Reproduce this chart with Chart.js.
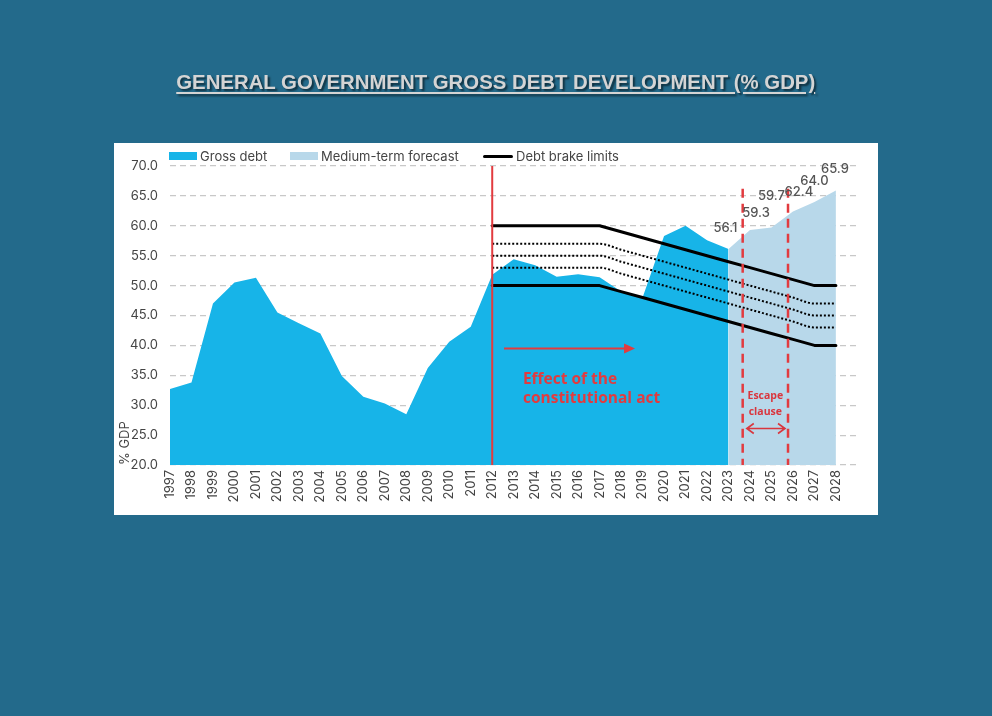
<!DOCTYPE html>
<html><head><meta charset="utf-8">
<script src="https://cdn.jsdelivr.net/npm/chart.js@4.4.1/dist/chart.umd.min.js"></script>
<style>
html,body{margin:0;padding:0;}
body{width:992px;height:716px;background:#236A8B;position:relative;overflow:hidden;font-family:Inter,"Liberation Sans",sans-serif;}
#title{position:absolute;left:0;top:70px;width:992px;text-align:center;}
#title span{display:inline-block;font-family:"Liberation Sans",Arial,sans-serif;font-weight:bold;font-size:20px;line-height:24px;color:#D4D4D4;text-decoration:underline;text-decoration-thickness:2px;text-underline-offset:3px;text-shadow:2px 2px 2px rgba(0,0,0,0.55);white-space:nowrap;transform-origin:center;}
#card{position:absolute;left:114px;top:143px;width:764px;height:372px;background:#fff;}
#card canvas{position:absolute;left:0;top:0;}
.lg{position:absolute;font-size:13px;color:#444;line-height:16px;white-space:nowrap;top:5px;}
.sw{position:absolute;}
</style></head><body>
<div id="title"><span id="ttl">GENERAL GOVERNMENT GROSS DEBT DEVELOPMENT (% GDP)</span></div>
<div id="card">
  <canvas id="c" width="764" height="372"></canvas>
  <div id="legend"></div>
</div>
<script>
// ---- data ----
const years = [1997,1998,1999,2000,2001,2002,2003,2004,2005,2006,2007,2008,2009,2010,2011,2012,2013,2014,2015,2016,2017,2018,2019,2020,2021,2022,2023,2024,2025,2026,2027,2028];
const grossDebt = [32.7,33.8,47.0,50.5,51.3,45.5,43.7,42.0,34.9,31.4,30.3,28.5,36.2,40.6,43.1,51.8,54.4,53.4,51.5,51.9,51.4,49.0,48.0,58.3,60.0,57.6,56.1]; // 1997-2023
const forecastStart = 2023;
const forecast = [56.1,59.3,59.7,62.4,64.0,65.9]; // 2023-2028
const brakeStart = 2012;
const brakeUpper = [60,60,60,60,60,60,59,58,57,56,55,54,53,52,51,50,50]; // 2012-2028
const brakeLower = [50,50,50,50,50,50,49,48,47,46,45,44,43,42,41,40,40];
const brakeDot1 = [57,57,57,57,57,57,56,55,54,53,52,51,50,49,48,47,47];
const brakeDot2 = [55,55,55,55,55,55,54,53,52,51,50,49,48,47,46,45,45];
const brakeDot3 = [53,53,53,53,53,53,52,51,50,49,48,47,46,45,44,43,43];
const yTicks = {min:20, max:70, step:5};
const legendLabels = ['Gross debt','Medium-term forecast','Debt brake limits'];
const actYear = 2012;
const escapeStart = 2023.66, escapeEnd = 2025.77;

// ---- helpers ----
const pad = (start, arr) => years.map(yr => { const i = yr - start; return (i >= 0 && i < arr.length) ? arr[i] : null; });
const labels = years.map(String).concat(['']);

const C_DEBT = '#17B4E8', C_FC = '#B8D8EA', RED = '#E23B3F', TXT = '#444';

// legend (HTML)
const lg = document.getElementById('legend');
lg.innerHTML =
  `<div class="sw" style="left:55px;top:9px;width:28px;height:8px;background:${C_DEBT}"></div>`+
  `<div class="lg" style="left:86px">${legendLabels[0]}</div>`+
  `<div class="sw" style="left:176px;top:9px;width:28px;height:8px;background:${C_FC}"></div>`+
  `<div class="lg" style="left:207px">${legendLabels[1]}</div>`+
  `<div class="sw" style="left:369px;top:11.5px;width:30px;height:3px;background:#000;border-radius:2px"></div>`+
  `<div class="lg" style="left:402px">${legendLabels[2]}</div>`;

// title fit
const t = document.getElementById('ttl');
const w = t.getBoundingClientRect().width;
t.style.transform = `scaleX(${639 / w})`;

const annot = {
  id: 'annot',
  afterDatasetsDraw(chart) {
    const {ctx, scales: {x, y}} = chart;
    const X = yr => x.getPixelForValue(yr - years[0]);
    const Y = v => y.getPixelForValue(v);
    ctx.save();
    // constitutional act line
    ctx.strokeStyle = RED; ctx.lineWidth = 2;
    ctx.beginPath(); ctx.moveTo(X(actYear), Y(yTicks.max)); ctx.lineTo(X(actYear), Y(yTicks.min)); ctx.stroke();
    // escape clause dashed lines
    ctx.setLineDash([9, 6]); ctx.lineWidth = 2.5;
    for (const yr of [escapeStart, escapeEnd]) {
      ctx.beginPath(); ctx.moveTo(X(yr), Y(66.2)); ctx.lineTo(X(yr), Y(yTicks.min)); ctx.stroke();
    }
    ctx.setLineDash([]);
    // effect arrow
    const ay = Y(39.5), ax1 = X(2012.55), ax2 = X(2018.65);
    ctx.lineWidth = 2;
    ctx.beginPath(); ctx.moveTo(ax1, ay); ctx.lineTo(ax2 - 8, ay); ctx.stroke();
    ctx.fillStyle = RED;
    ctx.beginPath(); ctx.moveTo(ax2, ay); ctx.lineTo(ax2 - 11, ay - 5); ctx.lineTo(ax2 - 11, ay + 5); ctx.closePath(); ctx.fill();
    // effect text
    ctx.font = 'bold 15.5px "Open Sans"';
    ctx.textAlign = 'left'; ctx.textBaseline = 'alphabetic';
    ctx.fillText('Effect of the', X(2013.43), Y(33.6));
    ctx.fillText('constitutional act', X(2013.43), Y(30.3));
    // escape clause text
    ctx.fillStyle = '#D9363E';
    ctx.font = 'bold 10.5px "Open Sans"';
    ctx.textAlign = 'center';
    const ex = (X(escapeStart) + X(escapeEnd)) / 2;
    ctx.fillText('Escape', ex, Y(31.0));
    ctx.fillText('clause', ex, Y(28.4));
    // double arrow
    ctx.strokeStyle = '#D9363E'; ctx.lineWidth = 1.6;
    const dy = Y(26.1), d1 = X(2023.85), d2 = X(2025.63);
    ctx.beginPath();
    ctx.moveTo(d1, dy); ctx.lineTo(d2, dy);
    ctx.moveTo(d1 + 7, dy - 5); ctx.lineTo(d1, dy); ctx.lineTo(d1 + 7, dy + 5);
    ctx.moveTo(d2 - 7, dy - 5); ctx.lineTo(d2, dy); ctx.lineTo(d2 - 7, dy + 5);
    ctx.stroke();
    // forecast labels
    const meta = chart.getDatasetMeta(1);
    const offs = {2023:[-3,-17], 2024:[6,-13], 2025:[0,-27.6], 2026:[6,-15], 2027:[0,-16.6], 2028:[-1,-17.6]};
    ctx.fillStyle = '#555'; ctx.font = '500 13px Inter'; ctx.textAlign = 'center';
    forecast.forEach((v, i) => {
      const yr = forecastStart + i;
      const pt = meta.data[yr - years[0]];
      const o = offs[yr] || [0, -16];
      ctx.fillText(v.toFixed(1), pt.x + o[0], pt.y + o[1]);
    });
    ctx.restore();
  }
};

const lineDs = (data, dotted) => ({
  type: 'line', data: pad(brakeStart, data), borderColor: '#000',
  borderWidth: dotted ? 2 : 3, borderDash: dotted ? [2, 2] : [],
  pointRadius: 0, fill: false, order: 1,
  tension: 0, cubicInterpolationMode: dotted ? 'monotone' : 'default',
  borderCapStyle: dotted ? 'butt' : 'round', borderJoinStyle: 'round'
});

new Chart(document.getElementById('c'), {
  type: 'line',
  data: {
    labels,
    datasets: [
      {label: legendLabels[0], data: pad(years[0], grossDebt), backgroundColor: C_DEBT, borderWidth: 0, pointRadius: 0, fill: 'start', order: 10, tension: 0},
      {label: legendLabels[1], data: pad(forecastStart, forecast), backgroundColor: C_FC, borderWidth: 0, pointRadius: 0, fill: 'start', order: 9, tension: 0},
      Object.assign(lineDs(brakeUpper, false), {label: legendLabels[2]}),
      lineDs(brakeLower, false),
      lineDs(brakeDot1, true),
      lineDs(brakeDot2, true),
      lineDs(brakeDot3, true)
    ]
  },
  options: {
    responsive: false, animation: false,
    layout: {padding: {top: 23, right: 20.5, bottom: 0, left: 0}},
    plugins: {legend: {display: false}, tooltip: {enabled: false}},
    scales: {
      x: {
        grid: {display: false, drawTicks: false},
        border: {display: false},
        ticks: {autoSkip: false, minRotation: 90, maxRotation: 90, padding: 5, color: TXT, font: {family: 'Inter', size: 13}},
        afterFit(s) { s.height = 50; }
      },
      y: {
        min: yTicks.min, max: yTicks.max,
        ticks: {stepSize: yTicks.step, padding: 12, color: TXT, font: {family: 'Inter', size: 13}, callback: v => Number(v).toFixed(1)},
        grid: {color: '#C8C8C8', lineWidth: 1.2, drawTicks: false},
        border: {display: false, dash: [6, 4]},
        title: {display: true, text: '% GDP', align: 'start', color: TXT, font: {family: 'Inter', size: 13}, padding: {top: 3, bottom: 0}},
        afterFit(s) { s.width = 56; }
      }
    }
  },
  plugins: [annot]
});
</script>
</body></html>
